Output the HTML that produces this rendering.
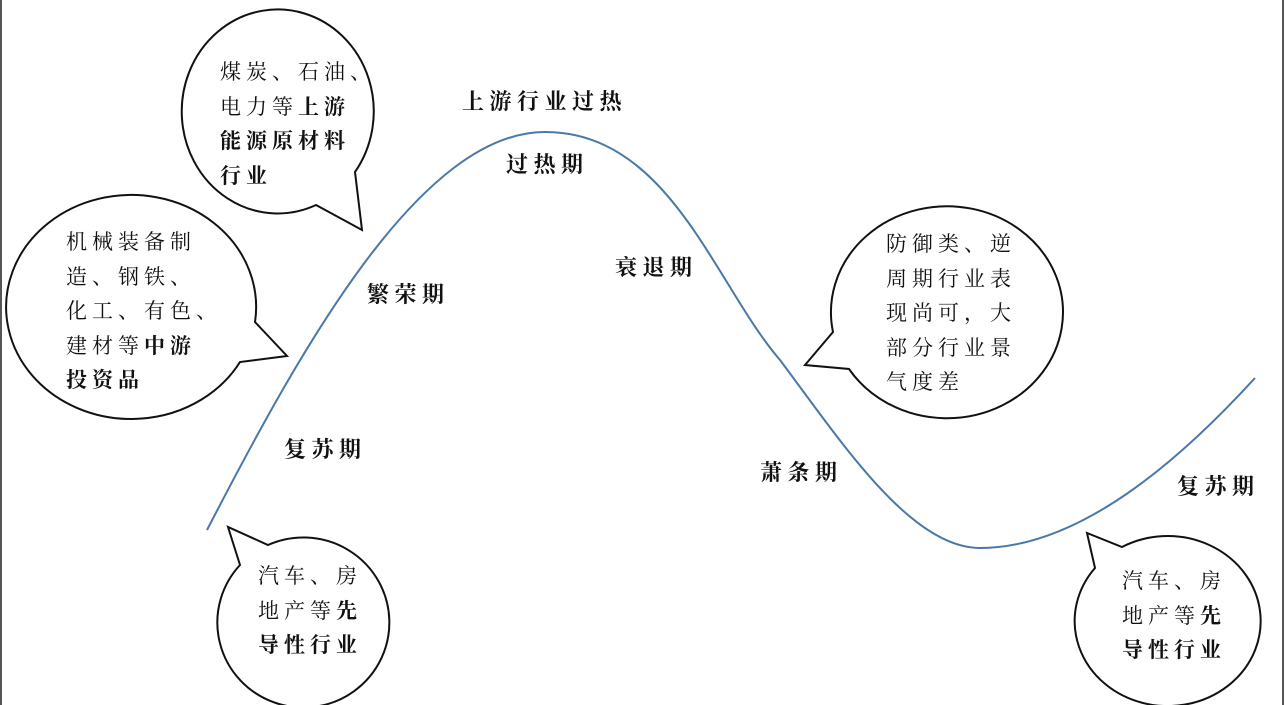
<!DOCTYPE html>
<html><head><meta charset="utf-8"><style>
body{margin:0;width:1285px;height:705px;background:#fff;position:relative;overflow:hidden;font-family:"Liberation Serif","Noto Serif CJK SC",serif;color:#111}
.t{position:absolute;font-size:21px;letter-spacing:5px;line-height:34.5px;white-space:nowrap}
.l{position:absolute;font-size:22px;letter-spacing:5.5px;font-weight:bold;white-space:nowrap;line-height:24px}
b{font-weight:bold}
</style></head><body>
<svg width="1285" height="705" style="position:absolute;left:0;top:0">
<line x1="1" y1="0" x2="1" y2="705" stroke="#555" stroke-width="2"/>
<line x1="1283" y1="0" x2="1283" y2="705" stroke="#555" stroke-width="2"/>
<path d="M207,530 C300,350 420,132 545,132 C670,132 715,285 780,360 C840,440 910,548 980,548 C1080,548 1180,460 1255,378" fill="none" stroke="#4a78a8" stroke-width="2"/>
<g fill="#fff" stroke="#111" stroke-width="2">
<path d="M355,172 A96,102 0 1 0 316,205 L362,230 Z"/>
<path d="M255,322 A125,112 0 1 0 240,362 L287,356 Z"/>
<path d="M833,332 A116,106 0 1 1 849,369 L805,365 Z"/>
<path d="M1095,568 A93,85 0 1 0 1122,547 L1087,533 Z"/>
<path d="M240,565 A86,85 0 1 0 268,545 L228,527 Z"/>
</g>
</svg>
<div class="t" style="left:220px;top:55px">煤炭、石油、<br>电力等<b>上游</b><br><b>能源原材料</b><br><b>行业</b></div>
<div class="t" style="left:66px;top:225px">机械装备制<br>造、钢铁、<br>化工、有色、<br>建材等<b>中游</b><br><b>投资品</b></div>
<div class="t" style="left:886px;top:227px">防御类、逆<br>周期行业表<br>现尚可，大<br>部分行业景<br>气度差</div>
<div class="t" style="left:258px;top:559px">汽车、房<br>地产等<b>先</b><br><b>导性行业</b></div>
<div class="t" style="left:1122px;top:564px">汽车、房<br>地产等<b>先</b><br><b>导性行业</b></div>
<div class="l" style="left:462px;top:90px">上游行业过热</div>
<div class="l" style="left:506px;top:153px">过热期</div>
<div class="l" style="left:367px;top:283px">繁荣期</div>
<div class="l" style="left:615px;top:256px">衰退期</div>
<div class="l" style="left:284px;top:438px">复苏期</div>
<div class="l" style="left:760px;top:461px">萧条期</div>
<div class="l" style="left:1177px;top:475px">复苏期</div>
</body></html>
